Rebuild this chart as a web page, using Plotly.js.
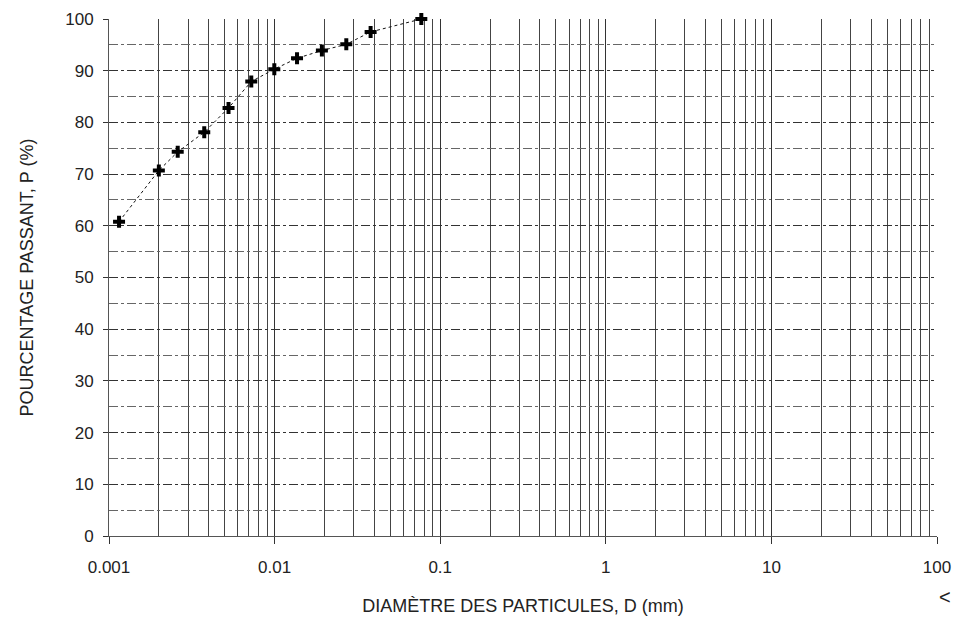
<!DOCTYPE html>
<html>
<head>
<meta charset="utf-8">
<script src="https://cdn.plot.ly/plotly-3.0.1.min.js"></script>
<style>html,body{margin:0;padding:0;background:#fff;}#chart{width:956px;height:633px;}</style>
</head>
<body>
<div id="chart"></div>
<script>
// Particle diameter D (mm) and percent passing P (%)
const diametres = [0.00115, 0.0020, 0.0026, 0.00376, 0.00527, 0.00723, 0.00996, 0.01366, 0.0193, 0.0271, 0.0380, 0.0769];
const passants  = [60.8, 70.7, 74.3, 78.1, 82.8, 87.9, 90.3, 92.4, 93.9, 95.1, 97.5, 100.0];
const xTickVals = [0.001, 0.01, 0.1, 1, 10, 100];
const xTickText = ["0.001", "0.01", "0.1", "1", "10", "100"];
const yTickVals = [0, 10, 20, 30, 40, 50, 60, 70, 80, 90, 100];

const FONT = "Liberation Sans, Arial, sans-serif";

const trace = {
  x: diametres,
  y: passants,
  type: "scatter",
  mode: "lines+markers",
  cliponaxis: false,
  line: {color: "#111", width: 1, dash: "dot"},
  marker: {symbol: "cross", size: 10, color: "#000", line: {width: 0}},
  showlegend: false,
  hoverinfo: "x+y"
};

const layout = {
  width: 956,
  height: 633,
  margin: {l: 109, r: 19, t: 19, b: 97},
  paper_bgcolor: "#fff",
  plot_bgcolor: "#fff",
  font: {family: FONT, color: "#222", size: 17},
  xaxis: {
    type: "log",
    range: [-3, 2],
    tickmode: "array",
    tickvals: xTickVals,
    ticktext: xTickText,
    ticks: "outside",
    ticklen: 7,
    tickcolor: "#333",
    ticklabelstandoff: 9,
    showgrid: true,
    gridcolor: "#333",
    gridwidth: 1,
    showline: true,
    linecolor: "#555",
    linewidth: 1,
    zeroline: false,
    minor: {dtick: "D1", showgrid: true, gridcolor: "#444", gridwidth: 1, griddash: "solid", ticks: ""},
    tickfont: {size: 17, family: FONT, color: "#222"},
    title: {text: "DIAMÈTRE DES PARTICULES, D (mm)", font: {size: 18, family: FONT, color: "#222"}, standoff: 22}
  },
  yaxis: {
    range: [0, 100],
    tickmode: "array",
    tickvals: yTickVals,
    ticks: "outside",
    ticklen: 5,
    tickcolor: "#333",
    ticklabelstandoff: 6,
    showgrid: true,
    gridcolor: "#333",
    gridwidth: 1,
    griddash: "dashdot",
    showline: true,
    linecolor: "#555",
    linewidth: 1,
    zeroline: false,
    minor: {dtick: 5, showgrid: true, gridcolor: "#666", gridwidth: 1, griddash: "dashdot", ticks: ""},
    tickfont: {size: 17, family: FONT, color: "#222"},
    title: {text: "POURCENTAGE PASSANT, P (%)", font: {size: 18, family: FONT, color: "#222"}, standoff: 26}
  },
  annotations: [
    {text: "<", xref: "paper", yref: "paper", x: 1.01, y: -0.118, xanchor: "center", yanchor: "middle", showarrow: false, font: {size: 20, family: FONT, color: "#222"}}
  ]
};

Plotly.newPlot("chart", [trace], layout, {displayModeBar: false, staticPlot: true});
</script>
</body>
</html>
